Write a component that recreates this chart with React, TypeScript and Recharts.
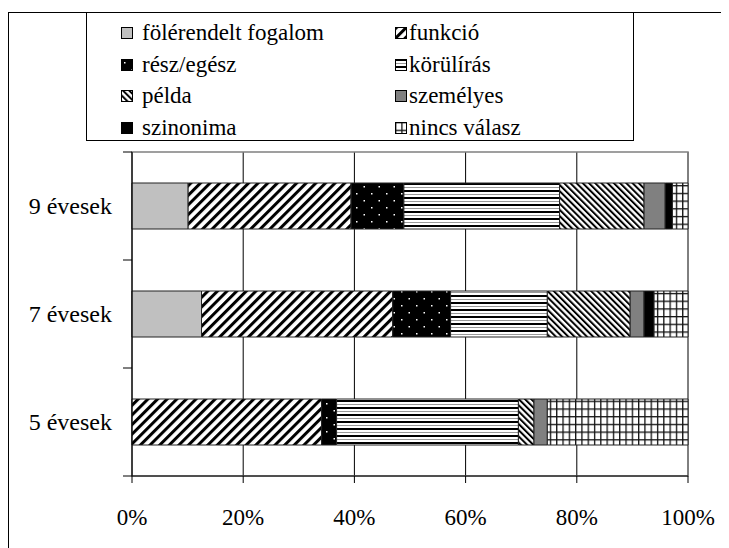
import {
  BarChart,
  Bar,
  XAxis,
  YAxis,
  CartesianGrid,
  ReferenceArea,
} from 'recharts';

const categories = ['9 évesek', '7 évesek', '5 évesek'];

const folerendelt = [10.1, 12.5, 0];
const funkcio = [29.3, 34.4, 34.1];
const reszEgesz = [9.5, 10.4, 2.7];
const korulIras = [28.0, 17.4, 32.7];
const pelda = [15.2, 14.9, 2.8];
const szemelyes = [3.8, 2.5, 2.4];
const szinonima = [1.3, 1.8, 0];
const nincsValasz = [2.8, 6.1, 25.3];

const xTicks = [0, 20, 40, 60, 80, 100];

const seriesNames = [
  'fölérendelt fogalom',
  'funkció',
  'rész/egész',
  'körülírás',
  'példa',
  'személyes',
  'szinonima',
  'nincs válasz',
];
const seriesValues = [
  folerendelt,
  funkcio,
  reszEgesz,
  korulIras,
  pelda,
  szemelyes,
  szinonima,
  nincsValasz,
];
const seriesFills = [
  '#C0C0C0',
  'url(#pFunkcio)',
  'url(#pResz)',
  'url(#pKorul)',
  'url(#pPelda)',
  '#808080',
  '#000000',
  'url(#pNincs)',
];

const data = categories.map((name, i) => {
  const row: Record<string, string | number> = { name };
  seriesNames.forEach((s, j) => {
    row['s' + j] = seriesValues[j][i];
  });
  return row;
});

const W = 721;
const H = 540;
const M = { top: 144, right: 41, bottom: 0, left: 0 };
const Y_W = 124;
const X_H = 72;
const plotH = H - M.top - M.bottom - X_H;
const FONT = 'Liberation Serif, Tinos, Times New Roman, DejaVu Serif, serif';

function YTick(props: any) {
  const { y, payload, index } = props;
  const half = plotH / categories.length / 2;
  const ax = Y_W;
  return (
    <g>
      <text
        x={ax - 20}
        y={y}
        textAnchor="end"
        dominantBaseline="central"
        style={{ fontFamily: FONT, fontSize: 24 }}
        fill="#000"
      >
        {payload.value}
      </text>
      <line x1={ax - 9} x2={ax} y1={y - half} y2={y - half} stroke="#000" />
      {index === categories.length - 1 && (
        <line x1={ax - 9} x2={ax} y1={y + half} y2={y + half} stroke="#000" />
      )}
    </g>
  );
}

function XTick(props: any) {
  const { x, y, payload } = props;
  return (
    <text
      x={x}
      y={y + 42}
      textAnchor="middle"
      style={{ fontFamily: FONT, fontSize: 23 }}
      fill="#000"
    >
      {payload.value + '%'}
    </text>
  );
}

function Swatch({ fill }: { fill: string }) {
  return (
    <svg width={12} height={12} style={{ display: 'block' }}>
      <rect x={0.5} y={0.5} width={11} height={11} fill={fill} stroke="#000" />
    </svg>
  );
}

function LegendBox() {
  return (
    <div
      style={{
        position: 'absolute',
        left: 78,
        top: 4,
        width: 548,
        height: 129,
        border: '1.5px solid #000',
        boxSizing: 'border-box',
        fontFamily: FONT,
        fontSize: 23,
      }}
    >
      {seriesNames.map((s, i) => (
        <div
          key={s}
          style={{
            position: 'absolute',
            left: i % 2 === 0 ? 34 : 308,
            top: 8 + Math.floor(i / 2) * 31.7 - 1,
            height: 26,
            display: 'flex',
            alignItems: 'center',
            whiteSpace: 'nowrap',
          }}
        >
          <Swatch fill={seriesFills[i]} />
          <span style={{ marginLeft: i % 2 === 0 ? 9 : 2 }}>{s}</span>
        </div>
      ))}
    </div>
  );
}

export default function App() {
  return (
    <div
      style={{
        position: 'relative',
        width: W,
        height: H,
        overflow: 'hidden',
        fontFamily: FONT,
      }}
    >
      <div
        style={{
          position: 'absolute',
          left: 0,
          top: 4,
          width: W + 20,
          height: H + 20,
          borderLeft: '1.5px solid #000',
          borderTop: '1.5px solid #000',
        }}
      />
      <div style={{ position: 'absolute', left: 0, top: 0 }}>
        <BarChart
          width={W}
          height={H}
          data={data}
          layout="vertical"
          margin={M}
          barSize={46}
          style={{ fontFamily: FONT }}
        >
          <defs>
            <pattern
              id="pFunkcio"
              patternUnits="userSpaceOnUse"
              width={6.8}
              height={6.8}
              patternTransform="rotate(45)"
            >
              <rect width={6.8} height={6.8} fill="#fff" />
              <rect width={3} height={6.8} fill="#000" />
            </pattern>
            <pattern
              id="pPelda"
              patternUnits="userSpaceOnUse"
              width={4.4}
              height={4.4}
              patternTransform="rotate(-45)"
            >
              <rect width={4.4} height={4.4} fill="#fff" />
              <rect width={2} height={4.4} fill="#000" />
            </pattern>
            <pattern id="pResz" patternUnits="userSpaceOnUse" width={15} height={14}>
              <rect width={15} height={14} fill="#000" />
              <rect x={3} y={3} width={1.5} height={1.5} fill="#fff" />
              <rect x={10.5} y={10} width={1.5} height={1.5} fill="#fff" />
            </pattern>
            <pattern id="pKorul" patternUnits="userSpaceOnUse" width={8} height={7}>
              <rect width={8} height={7} fill="#fff" />
              <rect y={0} width={8} height={2} fill="#000" />
              <rect y={4} width={8} height={1} fill="#999" />
            </pattern>
            <pattern id="pNincs" patternUnits="userSpaceOnUse" width={6.3} height={7.7}>
              <rect width={6.3} height={7.7} fill="#fff" />
              <rect x={0} width={1.3} height={7.7} fill="#111" />
              <rect y={0} width={6.3} height={1.3} fill="#111" />
            </pattern>
          </defs>
          <CartesianGrid horizontal={false} stroke="#000" strokeDasharray="0" />
          <ReferenceArea x1={0} x2={100} stroke="#808080" strokeWidth={1.5} fill="none" fillOpacity={0} />
          <XAxis
            type="number"
            domain={[0, 100]}
            ticks={xTicks}
            height={X_H}
            tickSize={7}
            tickMargin={0}
            stroke="#000"
            tick={<XTick />}
            interval={0}
          />
          <YAxis
            type="category"
            dataKey="name"
            width={Y_W}
            tickLine={false}
            stroke="#000"
            tick={<YTick />}
            interval={0}
          />
          {seriesNames.map((s, j) => (
            <Bar
              key={s}
              dataKey={'s' + j}
              name={s}
              stackId="a"
              fill={seriesFills[j]}
              stroke="#222"
              strokeWidth={1}
              isAnimationActive={false}
            />
          ))}
        </BarChart>
      </div>
      <LegendBox />
    </div>
  );
}
